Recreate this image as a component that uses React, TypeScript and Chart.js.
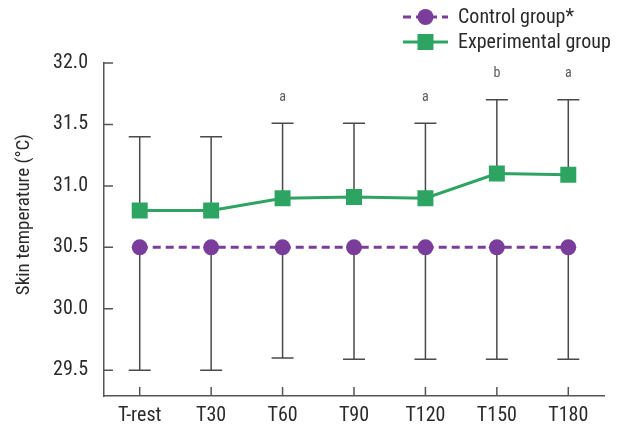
import { useEffect, useRef } from "react";
import { Chart, registerables } from "chart.js";

Chart.register(...registerables);

const categories = ["T-rest", "T30", "T60", "T90", "T120", "T150", "T180"];
const controlMeans = [30.5, 30.5, 30.5, 30.5, 30.5, 30.5, 30.5];
const experimentalMeans = [30.8, 30.8, 30.9, 30.91, 30.9, 31.1, 31.09];
const experimentalUpper = [31.4, 31.4, 31.51, 31.51, 31.51, 31.7, 31.7];
const controlLower = [29.5, 29.5, 29.6, 29.59, 29.59, 29.59, 29.59];
const significance = ["", "", "a", "", "a", "b", "a"];
const yTickValues = [29.5, 30.0, 30.5, 31.0, 31.5, 32.0];
const yTitle = "Skin temperature (°C)";

const FONT = "'Roboto Condensed', Roboto, sans-serif";
const PURPLE = "#7a3d9b";
const GREEN = "#2ea462";
const AXIS = "#555555";
const TEXT = "#2a2a2a";

const customPlugin = {
  id: "custom",
  beforeDatasetsDraw(chart: any) {
    const ctx = chart.ctx;
    const x = chart.scales.x;
    const y = chart.scales.y;
    ctx.save();
    ctx.strokeStyle = "#4a4a4a";
    ctx.lineWidth = 1.5;
    categories.forEach((_, i) => {
      const px = x.getPixelForValue(i);
      const yUp = y.getPixelForValue(experimentalUpper[i]);
      const yExp = y.getPixelForValue(experimentalMeans[i]);
      const yLo = y.getPixelForValue(controlLower[i]);
      const yCtl = y.getPixelForValue(controlMeans[i]);
      ctx.beginPath();
      ctx.moveTo(px, yExp);
      ctx.lineTo(px, yUp);
      ctx.moveTo(px - 11, yUp);
      ctx.lineTo(px + 11, yUp);
      ctx.moveTo(px, yCtl);
      ctx.lineTo(px, yLo);
      ctx.moveTo(px - 11, yLo);
      ctx.lineTo(px + 11, yLo);
      ctx.stroke();
    });
    ctx.restore();
  },
  afterDraw(chart: any) {
    const ctx = chart.ctx;
    const x = chart.scales.x;
    const y = chart.scales.y;
    const area = chart.chartArea;
    ctx.save();
    // inward tick marks
    ctx.strokeStyle = AXIS;
    ctx.lineWidth = 1.5;
    ctx.beginPath();
    yTickValues.forEach((v) => {
      const py = y.getPixelForValue(v);
      ctx.moveTo(area.left, py);
      ctx.lineTo(area.left + 9, py);
    });
    categories.forEach((_, i) => {
      const px = x.getPixelForValue(i);
      ctx.moveTo(px, area.bottom);
      ctx.lineTo(px, area.bottom - 9);
    });
    ctx.stroke();

    // y-axis title
    ctx.save();
    ctx.translate(29, 214.5);
    ctx.rotate(-Math.PI / 2);
    ctx.fillStyle = TEXT;
    ctx.font = `19px ${FONT}`;
    ctx.textAlign = "center";
    ctx.textBaseline = "alphabetic";
    ctx.fillText(yTitle, 0, 0);
    ctx.restore();

    // significance letters
    ctx.fillStyle = "#5a5a5a";
    ctx.font = `14px ${FONT}`;
    ctx.textAlign = "center";
    ctx.textBaseline = "middle";
    significance.forEach((s, i) => {
      if (!s) return;
      const px = x.getPixelForValue(i);
      const py = y.getPixelForValue(experimentalUpper[i]) - 26;
      ctx.fillText(s, px, py);
    });

    // legend
    const ds = chart.data.datasets;
    const rows = [
      { y: 17, ds: ds[0] },
      { y: 42, ds: ds[1] },
    ];
    rows.forEach((r) => {
      ctx.strokeStyle = r.ds.borderColor;
      ctx.lineWidth = 3;
      ctx.setLineDash(r.ds.borderDash || []);
      ctx.beginPath();
      ctx.moveTo(403, r.y);
      ctx.lineTo(448, r.y);
      ctx.stroke();
      ctx.setLineDash([]);
      ctx.fillStyle = r.ds.pointBackgroundColor;
      if (r.ds.pointStyle === "rect") {
        ctx.fillRect(425.5 - 8, r.y - 8, 16, 16);
      } else {
        ctx.beginPath();
        ctx.arc(425.5, r.y, 8, 0, Math.PI * 2);
        ctx.fill();
      }
      ctx.fillStyle = TEXT;
      ctx.font = `20px ${FONT}`;
      ctx.textAlign = "left";
      ctx.textBaseline = "middle";
      ctx.fillText(r.ds.label, 458, r.y + 1);
    });
    ctx.restore();
  },
};

export default function App() {
  const ref = useRef<HTMLCanvasElement>(null);
  useEffect(() => {
    document.body.style.margin = "0";
    const canvas = ref.current!;
    const chart = new Chart(canvas, {
      type: "line",
      data: {
        labels: categories,
        datasets: [
          {
            label: "Control group*",
            data: controlMeans,
            borderColor: PURPLE,
            backgroundColor: PURPLE,
            pointBackgroundColor: PURPLE,
            pointBorderColor: PURPLE,
            borderWidth: 3,
            borderDash: [8, 5],
            pointStyle: "circle",
            pointRadius: 8,
            pointBorderWidth: 0,
            tension: 0,
          },
          {
            label: "Experimental group",
            data: experimentalMeans,
            borderColor: GREEN,
            backgroundColor: GREEN,
            pointBackgroundColor: GREEN,
            pointBorderColor: GREEN,
            borderWidth: 3,
            pointStyle: "rect",
            pointRadius: 11.3,
            pointBorderWidth: 0,
            tension: 0,
          },
        ],
      },
      options: {
        responsive: false,
        animation: false,
        layout: { padding: { top: 63, right: 20, left: 0, bottom: 0 } },
        plugins: {
          legend: { display: false },
          tooltip: { enabled: false },
        },
        scales: {
          x: {
            type: "category",
            offset: true,
            grid: { display: false, drawTicks: false },
            border: { display: true, color: AXIS, width: 1.5 },
            ticks: {
              color: TEXT,
              padding: 8,
              font: { family: FONT, size: 20 },
              maxRotation: 0,
            },
            afterFit(scale: any) {
              scale.height = 28;
            },
          },
          y: {
            min: 29.29,
            max: 32.0,
            grid: { display: false, drawTicks: false },
            border: { display: true, color: AXIS, width: 1.5 },
            ticks: {
              color: TEXT,
              padding: 16,
              font: { family: FONT, size: 20 },
              callback: (v: any) => Number(v).toFixed(1),
            },
            afterBuildTicks(scale: any) {
              scale.ticks = yTickValues.map((v) => ({ value: v }));
            },
            afterFit(scale: any) {
              scale.width = 104;
            },
          },
        },
      },
      plugins: [customPlugin],
    } as any);
    return () => chart.destroy();
  }, []);
  return <canvas ref={ref} width={624} height={424} style={{ display: "block" }} />;
}
